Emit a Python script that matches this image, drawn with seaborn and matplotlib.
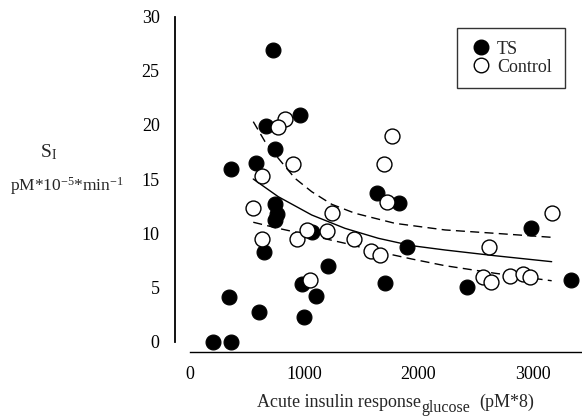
import matplotlib
matplotlib.use("Agg")
import matplotlib.pyplot as plt
import seaborn as sns
from matplotlib.lines import Line2D

sns.set_theme(style="white")
plt.rcParams['font.family'] = ['Liberation Serif', 'DejaVu Serif']
plt.rcParams['mathtext.fontset'] = 'custom'
plt.rcParams['mathtext.rm'] = 'Liberation Serif'
plt.rcParams['mathtext.it'] = 'Liberation Serif:italic'

# TS (filled)
ts_x = [724, 963, 663, 744, 575, 359, 740, 760, 745, 651, 1071, 1211, 978, 1100,
        998, 342, 604, 204, 356, 1640, 1833, 1903, 1708, 2423, 2986, 3336]
ts_y = [26.9, 20.9, 19.9, 17.8, 16.5, 15.9, 12.7, 11.8, 11.2, 8.3, 10.1, 7.0, 5.3, 4.2,
        2.3, 4.1, 2.75, 0.0, 0.0, 13.7, 12.8, 8.75, 5.4, 5.0, 10.5, 5.7]

# Control (open)
ctl_x = [832, 774, 905, 633, 549, 633, 934, 1027, 1051, 1240, 1197, 1436, 1585, 1664,
         1728, 1702, 1772, 2621, 2569, 2633, 2802, 2919, 2977, 3167]
ctl_y = [20.5, 19.8, 16.4, 15.3, 12.3, 9.5, 9.5, 10.3, 5.7, 11.9, 10.2, 9.5, 8.4, 8.0,
         12.9, 16.4, 19.0, 8.7, 6.0, 5.5, 6.05, 6.2, 6.0, 11.9]

# Fitted curve and confidence limits
fit_x = [554, 773, 1066, 1357, 1649, 1941, 2233, 2671, 3167]
fit_y = [15.0, 13.37, 11.68, 10.45, 9.53, 8.85, 8.45, 7.92, 7.37]
up_x = [554, 657, 773, 919, 1066, 1241, 1445, 1795, 2233, 2671, 3167]
up_y = [20.3, 18.45, 16.92, 15.07, 13.83, 12.67, 11.84, 10.91, 10.30, 9.99, 9.62]
lo_x = [554, 773, 1066, 1357, 1649, 1941, 2233, 2671, 3167]
lo_y = [11.01, 10.45, 9.77, 9.07, 8.29, 7.62, 7.00, 6.30, 5.61]

x_ticks = [0, 1000, 2000, 3000]
y_ticks = [0, 5, 10, 15, 20, 25, 30]

fig = plt.figure(figsize=(5.82, 4.19), dpi=100)
ax = fig.add_axes([175/582, 1 - 352/419, 407/582, 337/419])

fs = 13
dash = (0, (6.5, 3.8))
sns.lineplot(x=fit_x, y=fit_y, ax=ax, color='black', lw=1.0, sort=False, estimator=None)
sns.lineplot(x=up_x, y=up_y, ax=ax, color='black', lw=1.0, sort=False, estimator=None,
             linestyle=dash)
sns.lineplot(x=lo_x, y=lo_y, ax=ax, color='black', lw=1.0, sort=False, estimator=None,
             linestyle=dash)

sns.scatterplot(x=ts_x, y=ts_y, ax=ax, color='black', edgecolor='black', s=115,
                linewidth=0.8, zorder=3, clip_on=False)
sns.scatterplot(x=ctl_x, y=ctl_y, ax=ax, facecolor='white', edgecolor='black', s=115,
                linewidth=1.0, zorder=4, clip_on=False)

xmin = -15 / 0.1142
xmax = (582 - 190) / 0.1142
ax.set_xlim(xmin, xmax)
ax.set_ylim((341.5 - 352) / 10.83, (341.5 - 15) / 10.83)

for side in ['top', 'right']:
    ax.spines[side].set_visible(False)
ax.spines['left'].set_color('black')
ax.spines['bottom'].set_color('black')
ax.spines['left'].set_linewidth(1.3)
ax.spines['bottom'].set_linewidth(1.0)
ax.spines['left'].set_bounds(0, 30)
ax.spines['bottom'].set_bounds(0, xmax)

ax.set_xticks(x_ticks)
ax.set_yticks(y_ticks)
ax.set_xticklabels([str(v) for v in x_ticks], fontsize=fs)
ax.set_yticklabels([str(v) for v in y_ticks], fontsize=fs)
ax.tick_params(axis='x', direction='in', length=4, width=1, pad=10, colors='black')
ax.tick_params(axis='y', length=0, pad=11, colors='black')

handles = [
    Line2D([], [], marker='o', linestyle='none', markerfacecolor='black',
           markeredgecolor='black', markersize=10.5, label='TS'),
    Line2D([], [], marker='o', linestyle='none', markerfacecolor='white',
           markeredgecolor='black', markersize=10.5, label='Control'),
]
leg = ax.legend(handles=handles, loc='upper left', bbox_to_anchor=(0.694, 0.961),
                borderaxespad=0, fontsize=fs, frameon=True, fancybox=False,
                handletextpad=0.3, labelspacing=0.05, borderpad=0.7, handlelength=1.2)
leg.get_frame().set_edgecolor('black')
leg.get_frame().set_linewidth(1.0)

# x label built from pieces so the subscript keeps a larger size
fig.canvas.draw()
renderer = fig.canvas.get_renderer()
base_y = 1 - 407/419
t1 = fig.text(257/582, base_y, "Acute insulin response", ha='left', va='baseline',
              fontsize=fs)
w1 = t1.get_window_extent(renderer).x1
t2 = fig.text(w1/582, base_y - 5/419, "glucose", ha='left', va='baseline',
              fontsize=fs - 1.5)
w2 = t2.get_window_extent(renderer).x1
fig.text((w2 + 10)/582, base_y, "(pM*8)", ha='left', va='baseline', fontsize=fs)

fig.text(40/582, 1 - 152/419, r"S$_\mathrm{I}$", ha='left', va='center', fontsize=fs + 1)
fig.text(10/582, 1 - 186/419, r"pM*10$^{\mathrm{-5}}$*min$^{\mathrm{-1}}$",
         ha='left', va='center', fontsize=fs - 0.5)

fig.savefig("out.png", dpi=100)
